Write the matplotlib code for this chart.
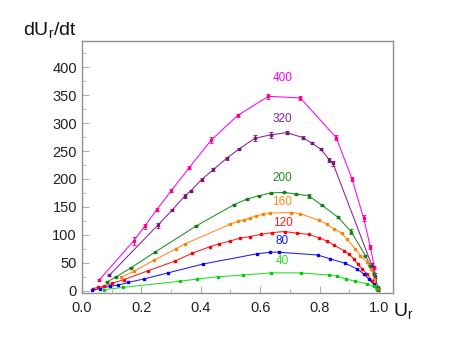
import numpy as np
import matplotlib
matplotlib.use("Agg")
import matplotlib.pyplot as plt
from matplotlib.ticker import MultipleLocator

plt.rcParams['font.family'] = ['Liberation Sans', 'DejaVu Sans']
plt.rcParams['mathtext.fontset'] = 'custom'
plt.rcParams['mathtext.rm'] = 'Liberation Sans'

# curves labelled by their parameter value
x_400 = [0.058, 0.174, 0.211, 0.252, 0.301, 0.361, 0.436, 0.525, 0.628, 0.735, 0.856, 0.909, 0.948, 0.971, 0.984, 0.995]
y_400 = [19, 89, 115, 145, 179, 220, 270, 314, 348, 345, 274, 200, 130, 78, 42, 3]
e_400 = [2, 8, 4, 3, 3, 3, 6, 3, 4, 4, 5, 3, 5, 4, 3, 2]

x_320 = [0.093, 0.255, 0.305, 0.347, 0.367, 0.403, 0.443, 0.487, 0.530, 0.583, 0.636, 0.690, 0.744, 0.774, 0.805, 0.833, 0.845, 0.976, 0.988, 0.995]
y_320 = [28, 117, 145, 170, 179, 199, 217, 237, 254, 273, 279, 283, 274, 264, 253, 234, 228, 45, 27, 2]
e_320 = [2, 4, 2, 4, 2, 2, 2, 3, 2, 5, 5, 2, 3, 2, 2, 4, 5, 5, 4, 2]

x_200 = [0.086, 0.116, 0.165, 0.246, 0.385, 0.512, 0.555, 0.595, 0.637, 0.680, 0.722, 0.763, 0.808, 0.861, 0.906, 0.954, 0.971, 0.984, 0.995]
y_200 = [16, 25, 41, 69, 116, 154, 164, 170, 175, 176, 173, 170, 153, 132, 106, 63, 45, 30, 6]
e_200 = [1, 1, 1, 1, 1, 1, 1, 1, 1, 1, 1, 4, 1, 1, 4, 1, 1, 1, 1]

x_160 = [0.132, 0.176, 0.244, 0.316, 0.348, 0.499, 0.527, 0.546, 0.566, 0.587, 0.609, 0.634, 0.705, 0.735, 0.797, 0.825, 0.850, 0.875, 0.892, 0.920, 0.937, 0.960, 0.973, 0.984, 0.995]
y_160 = [24, 35, 55, 75, 84, 119, 125, 127, 130, 134, 137, 139, 140, 138, 126, 119, 110, 103, 92, 75, 63, 51, 39, 21, 3]

x_120 = [0.038, 0.055, 0.075, 0.101, 0.142, 0.224, 0.313, 0.370, 0.432, 0.463, 0.499, 0.531, 0.567, 0.603, 0.640, 0.682, 0.724, 0.763, 0.797, 0.825, 0.847, 0.881, 0.898, 0.915, 0.928, 0.943, 0.960, 0.976, 0.993]
y_120 = [4, 6, 8, 13, 20, 36, 53, 67, 79, 84, 89, 94, 97, 101, 104, 106, 103, 101, 95, 89, 82, 72, 66, 57, 48, 39, 30, 18, 3]

x_80 = [0.034, 0.060, 0.096, 0.121, 0.157, 0.208, 0.290, 0.409, 0.588, 0.634, 0.662, 0.793, 0.836, 0.887, 0.926, 0.949, 0.965, 0.982, 0.993]
y_80 = [1, 4, 8, 10, 15, 21, 32, 48, 66, 69, 69, 64, 57, 49, 39, 30, 21, 12, 3]

x_40 = [0.076, 0.138, 0.329, 0.389, 0.457, 0.541, 0.637, 0.738, 0.833, 0.858, 0.889, 0.920, 0.960, 0.982, 0.993]
y_40 = [2, 6, 17, 21, 25, 28, 32, 32, 28, 26, 21, 17, 12, 8, 3]

labels = ["400", "320", "200", "160", "120", "80", "40"]
label_y = [380, 308, 201, 158, 122, 89, 54]
label_x = 0.675

colors = ['#ff00ff', '#8e1f8e', '#1f8f1f', '#ff8c1a', '#ff1a1a', '#1a1aff', '#22e022']
marker_colors = ['#ff0080', '#7a147a', '#1a7a1a', '#ff7f00', '#ff0000', '#0000ff', '#00cc00']

series = [(x_400, y_400, e_400), (x_320, y_320, e_320), (x_200, y_200, e_200),
          (x_160, y_160, None), (x_120, y_120, None), (x_80, y_80, None), (x_40, y_40, None)]

fig = plt.figure(figsize=(4.57, 3.53), dpi=100)
ax = fig.add_axes([0.179, 0.170, 0.681, 0.714])

for (xs, ys, es), c, mc in zip(series, colors, marker_colors):
    ax.plot(xs, ys, '-', color=c, lw=0.75, zorder=2)
    ax.errorbar(xs, ys, yerr=es, fmt='s', ms=1.7, color=mc, mec=mc,
                elinewidth=0.7, capsize=1.2, capthick=0.6, lw=0, zorder=3)

for lab, ly, c in zip(labels, label_y, colors):
    ax.text(label_x, ly, lab, color=c, fontsize=8.5, ha='center', va='center')

ax.set_xlim(0, 1.047)
ax.set_ylim(-4, 447)
ax.xaxis.set_major_locator(MultipleLocator(0.2))
ax.xaxis.set_minor_locator(MultipleLocator(0.1))
ax.yaxis.set_major_locator(MultipleLocator(50))
ax.yaxis.set_minor_locator(MultipleLocator(25))
ax.xaxis.set_major_formatter(plt.FormatStrFormatter('%.1f'))

for s in ax.spines.values():
    s.set_color('#909090')
    s.set_linewidth(1.0)
ax.tick_params(which='both', direction='in', color='#b0b0b0', labelsize=10.5,
               labelcolor='#222222', top=False, right=False)
ax.tick_params(which='major', length=5)
ax.tick_params(which='minor', length=3)
ax.tick_params(axis='x', pad=6)

fig.text(0.050, 0.885, r'dU$_{\mathregular{r}}$/dt', fontsize=14, color='#111111', va='bottom')
fig.text(0.860, 0.088, r'U$_{\mathregular{r}}$', fontsize=14, color='#111111', va='bottom')

fig.savefig('out.png', dpi=100)
